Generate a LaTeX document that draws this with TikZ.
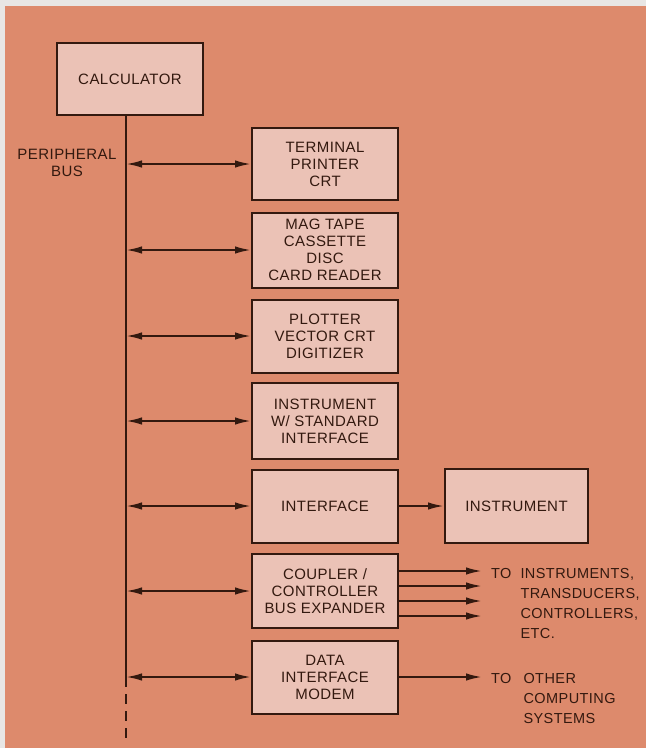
\documentclass[tikz,border=0pt]{standalone}
\usepackage{fontspec}
\setmainfont{Liberation Sans}[LetterSpace=3]
\usetikzlibrary{arrows.meta}
\definecolor{bgorange}{HTML}{DD8A6C}
\definecolor{boxfill}{HTML}{EBC2B6}
\definecolor{ink}{HTML}{33190F}
\definecolor{frame}{HTML}{E8E6E4}
\begin{document}
\begin{tikzpicture}[x=1pt,y=-1pt,
  every node/.style={font=\fontsize{15}{17}\selectfont, text=ink},
  blk/.style={draw=ink, line width=2pt, fill=boxfill, align=center, minimum width=146pt, inner sep=0pt},
  wire/.style={draw=ink, line width=2pt},
  tip/.style={-{Latex[length=16pt,width=7.5pt]}},
  dtip/.style={{Latex[length=16pt,width=7.5pt]}-{Latex[length=16pt,width=7.5pt]}},
  lbl/.style={align=left, inner sep=0pt, font=\fontsize{14.5}{19.7}\selectfont}
]
\fill[frame] (0,0) rectangle (646,748);
\fill[bgorange] (5,6) rectangle (646,748);
\useasboundingbox (0,0) rectangle (646,748);

\node[blk, minimum height=72pt] (calc) at (130,79) {CALCULATOR};
\node[blk, minimum height=72pt] (term) at (325,164) {TERMINAL\\PRINTER\\CRT};
\node[blk, minimum height=75pt] (mag) at (325,250) {MAG TAPE\\CASSETTE\\DISC\\CARD READER};
\node[blk, minimum height=73pt] (plot) at (325,336) {PLOTTER\\VECTOR CRT\\DIGITIZER};
\node[blk, minimum height=76pt] (istd) at (325,421) {INSTRUMENT\\W/ STANDARD\\INTERFACE};
\node[blk, minimum height=73pt] (intf) at (325,506) {INTERFACE};
\node[blk, minimum height=74pt] (coup) at (325,591) {COUPLER /\\CONTROLLER\\BUS EXPANDER};
\node[blk, minimum height=73pt] (data) at (325,677) {DATA\\INTERFACE\\MODEM};
\node[blk, minimum height=74pt, minimum width=143pt] (inst) at (516.5,506) {INSTRUMENT};

\node[align=center, inner sep=0pt] (pbus) at (67,163) {PERIPHERAL\\BUS};

\coordinate (btop) at (126,115);
\coordinate (bend) at (126,677);
\coordinate (bdash) at (126,743);
\draw[wire] (btop) -- (bend);
\draw[wire, dash pattern=on 10pt off 7pt] (bend) -- (bdash);

\foreach \n in {term,mag,plot,istd,intf,coup,data}
  \draw[wire, dtip] (btop |- \n.west) -- (\n.west);

\draw[wire, tip] (intf.east) -- (inst.west);

\coordinate (c1) at (482,571);
\coordinate (c2) at (482,586);
\coordinate (c3) at (482,601);
\coordinate (c4) at (482,616);
\foreach \c in {c1,c2,c3,c4}
  \draw[wire, tip] (coup.east |- \c) -- (\c);
\coordinate (d1) at (482,677);
\draw[wire, tip] (data.east |- d1) -- (d1);

\node[lbl, anchor=north west] (to1) at (491,565) {\begin{tabular}{@{}l@{\hspace{9pt}}l@{}}TO & INSTRUMENTS,\\ & TRANSDUCERS,\\ & CONTROLLERS,\\ & ETC.\end{tabular}};
\node[lbl, anchor=north west] (to2) at (491,670) {\begin{tabular}{@{}l@{\hspace{12pt}}l@{}}TO & OTHER\\ & COMPUTING\\ & SYSTEMS\end{tabular}};
\end{tikzpicture}
\end{document}
